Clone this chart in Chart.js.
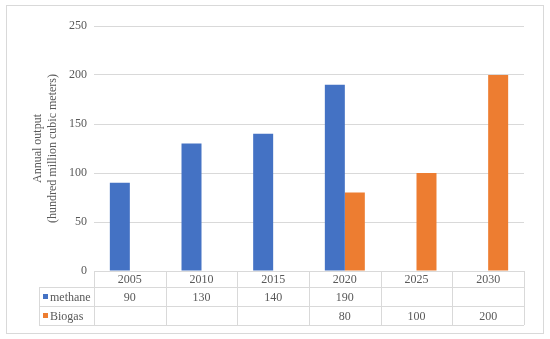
<!DOCTYPE html>
<html>
<head>
<meta charset="utf-8">
<script src="https://cdn.jsdelivr.net/npm/chart.js@4"></script>
<style>
  html, body { margin: 0; padding: 0; background: #fff; }
  #wrap { width: 550px; height: 339px; position: relative; }
</style>
</head>
<body>
<div id="wrap"><canvas id="c" width="550" height="339"></canvas></div>
<script>
const categories = ['2005', '2010', '2015', '2020', '2025', '2030'];
const methaneValues = [90, 130, 140, 190, null, null];
const biogasValues = [null, null, null, 80, 100, 200];
const seriesNames = ['methane', 'Biogas'];
const seriesColors = ['#4472C4', '#ED7D31'];
const yTitle = ['Annual output', '(hundred million cubic meters)'];

const FONT = 'Liberation Serif';
const TEXT = '#595959';
const GRID = '#d9d9d9';

const tablePlugin = {
  id: 'dataTable',
  beforeDraw(chart) {
    const ctx = chart.ctx;
    ctx.save();
    ctx.fillStyle = '#fff';
    ctx.fillRect(0, 0, chart.width, chart.height);
    ctx.strokeStyle = GRID;
    ctx.lineWidth = 1;
    ctx.strokeRect(6.5, 5.5, 537, 328);
    ctx.restore();
  },
  afterDraw(chart) {
    const ctx = chart.ctx;
    const area = chart.chartArea;
    const xs = chart.scales.x;
    const n = categories.length;
    const colW = (area.right - area.left) / n;
    const top = area.bottom;
    const rowH = [16, 19, 19];
    const rowsY = [top, top + rowH[0], top + rowH[0] + rowH[1], top + rowH[0] + rowH[1] + rowH[2]];
    const legendLeft = 39;
    ctx.save();
    ctx.strokeStyle = GRID;
    ctx.lineWidth = 1;
    ctx.beginPath();
    ctx.moveTo(area.left, Math.round(rowsY[0]) + 0.5);
    ctx.lineTo(area.right, Math.round(rowsY[0]) + 0.5);
    for (let r = 1; r < rowsY.length; r++) {
      ctx.moveTo(legendLeft, Math.round(rowsY[r]) + 0.5);
      ctx.lineTo(area.right, Math.round(rowsY[r]) + 0.5);
    }
    for (let i = 0; i <= n; i++) {
      const x = Math.round(area.left + i * colW) + 0.5;
      ctx.moveTo(x, rowsY[0]);
      ctx.lineTo(x, rowsY[3]);
    }
    ctx.moveTo(legendLeft + 0.5, rowsY[1]);
    ctx.lineTo(legendLeft + 0.5, rowsY[3]);
    ctx.stroke();

    ctx.font = '12px "' + FONT + '"';
    ctx.fillStyle = TEXT;
    ctx.textAlign = 'center';
    ctx.textBaseline = 'middle';
    categories.forEach((c, i) => {
      const cx = xs.getPixelForValue(i);
      ctx.fillText(c, cx, (rowsY[0] + rowsY[1]) / 2 + 1);
    });
    const series = [methaneValues, biogasValues];
    series.forEach((vals, s) => {
      const cy = (rowsY[s + 1] + rowsY[s + 2]) / 2 + 1;
      vals.forEach((v, i) => {
        if (v === null) return;
        ctx.fillText(String(v), xs.getPixelForValue(i), cy);
      });
      ctx.fillStyle = seriesColors[s];
      ctx.fillRect(legendLeft + 4, cy - 3.5, 5, 5);
      ctx.fillStyle = TEXT;
      ctx.textAlign = 'left';
      ctx.fillText(seriesNames[s], legendLeft + 11, cy);
      ctx.textAlign = 'center';
    });
    ctx.restore();
  }
};

new Chart(document.getElementById('c'), {
  type: 'bar',
  data: {
    labels: categories,
    datasets: [
      { label: seriesNames[0], data: methaneValues, backgroundColor: seriesColors[0], borderWidth: 0,
        categoryPercentage: 0.558, barPercentage: 1 },
      { label: seriesNames[1], data: biogasValues, backgroundColor: seriesColors[1], borderWidth: 0,
        categoryPercentage: 0.558, barPercentage: 1 }
    ]
  },
  options: {
    responsive: false,
    animation: false,
    layout: { padding: { left: 0, right: 26, top: 26, bottom: 68 } },
    plugins: { legend: { display: false }, tooltip: { enabled: false } },
    scales: {
      x: { display: false },
      y: {
        min: 0, max: 250,
        ticks: { stepSize: 50, padding: 7, color: TEXT, font: { family: FONT, size: 12 } },
        grid: { color: GRID, drawTicks: false, lineWidth: 1 },
        border: { display: false },
        title: { display: true, text: yTitle, color: TEXT, font: { family: FONT, size: 12, lineHeight: 1.25 },
                 padding: { top: 30, bottom: 0 } },
        afterFit(scale) { scale.width = 94; }
      }
    }
  },
  plugins: [tablePlugin]
});
</script>
</body>
</html>
